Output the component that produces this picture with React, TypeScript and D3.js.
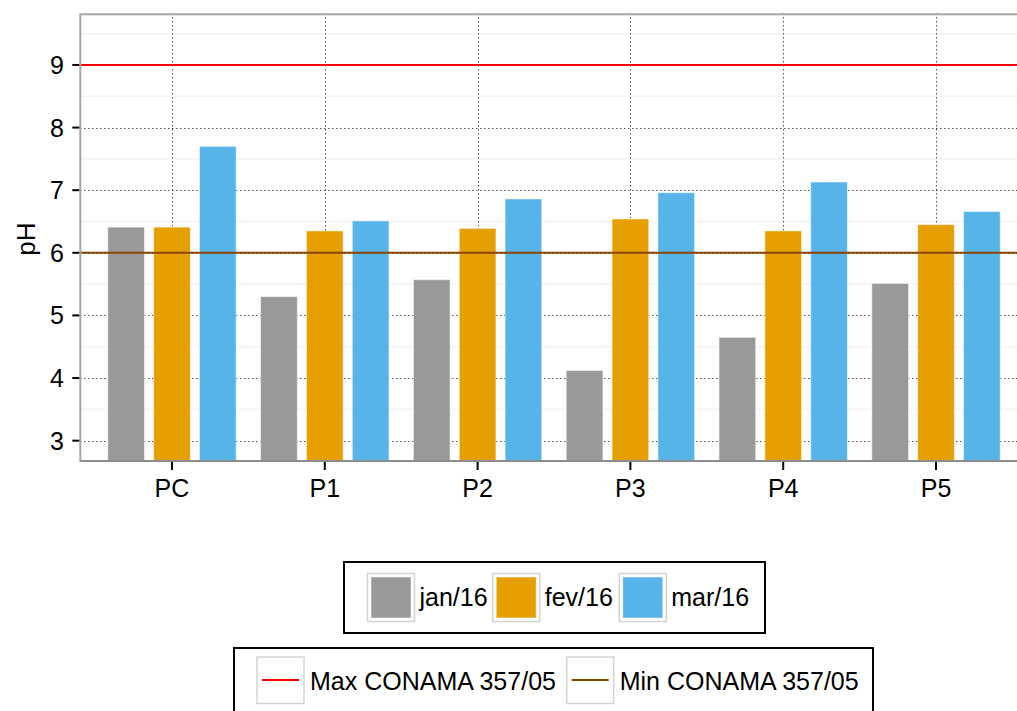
import { useEffect, useRef } from "react";
import * as d3 from "d3";

const sites = ["PC", "P1", "P2", "P3", "P4", "P5"];
const months = ["jan/16", "fev/16", "mar/16"];
const janValues = [6.41, 5.3, 5.57, 4.12, 4.65, 5.51];
const fevValues = [6.41, 6.35, 6.39, 6.54, 6.35, 6.45];
const marValues = [7.7, 6.51, 6.86, 6.96, 7.13, 6.66];
const monthColors = ["#999999", "#E69F00", "#56B4E9"];
const yTicks = [3, 4, 5, 6, 7, 8, 9];
const yMinor = [3.5, 4.5, 5.5, 6.5, 7.5, 8.5, 9.5];
const limitLabels = ["Max CONAMA 357/05", "Min CONAMA 357/05"];
const limitValues = [9, 6];
const limitColors = ["#FF0000", "#8B4500"];

const App = () => {
    const ref = useRef<SVGSVGElement | null>(null);

    useEffect(() => {
        const svg = d3.select(ref.current);
        svg.selectAll("*").remove();

        const font = "'Liberation Sans', Arial, sans-serif";
        const panel = { left: 80.3, right: 1027.7, top: 13.3, bottom: 461 };

        const x = d3.scalePoint<string>()
            .domain(sites)
            .range([panel.left, panel.right])
            .padding(0.6);
        const step = x.step();

        const dodge = d3.scaleBand<string>()
            .domain(months)
            .range([-0.45 * step, 0.45 * step]);

        const y = d3.scaleLinear()
            .domain([2.675, 9.825])
            .range([panel.bottom, panel.top]);

        const data = months.flatMap((m, mi) => {
            const vals = [janValues, fevValues, marValues][mi];
            return sites.map((s, i) => ({ site: s, month: m, value: vals[i], color: monthColors[mi] }));
        });

        svg.append("defs").append("clipPath").attr("id", "panel-clip")
            .append("rect")
            .attr("x", panel.left).attr("y", panel.top)
            .attr("width", panel.right - panel.left).attr("height", panel.bottom - panel.top);

        const g = svg.append("g").attr("clip-path", "url(#panel-clip)");

        // minor grid
        g.selectAll(".minor").data(yMinor).enter().append("line")
            .attr("x1", panel.left).attr("x2", panel.right)
            .attr("y1", d => y(d)).attr("y2", d => y(d))
            .attr("stroke", "#f3f3f3").attr("stroke-width", 1.5);

        // major grid (dotted)
        g.selectAll(".major").data(yTicks).enter().append("line")
            .attr("x1", panel.left).attr("x2", panel.right)
            .attr("y1", d => Math.round(y(d)) + 0.5).attr("y2", d => Math.round(y(d)) + 0.5)
            .attr("stroke", "#000").attr("stroke-width", 1)
            .attr("stroke-dasharray", "1,3");
        g.selectAll(".vgrid").data(sites).enter().append("line")
            .attr("x1", d => Math.round(x(d)!) + 0.5).attr("x2", d => Math.round(x(d)!) + 0.5)
            .attr("y1", panel.top).attr("y2", panel.bottom)
            .attr("stroke", "#000").attr("stroke-width", 1)
            .attr("stroke-dasharray", "1,3");

        // bars
        const bw = dodge.bandwidth();
        g.selectAll(".bar").data(data).enter().append("rect")
            .attr("x", d => x(d.site)! + dodge(d.month)! + bw * 0.1)
            .attr("width", bw * 0.8)
            .attr("y", d => y(d.value))
            .attr("height", d => panel.bottom - y(d.value))
            .attr("fill", d => d.color)
            .attr("stroke", "white")
            .attr("stroke-opacity", 0.5)
            .attr("stroke-width", 1);

        // CONAMA limits
        g.selectAll(".limit").data(limitValues).enter().append("line")
            .attr("x1", panel.left).attr("x2", panel.right)
            .attr("y1", d => y(d)).attr("y2", d => y(d))
            .attr("stroke", (d, i) => limitColors[i])
            .attr("stroke-width", 2);

        // panel border
        svg.append("rect")
            .attr("x", panel.left).attr("y", panel.top + 1)
            .attr("width", panel.right - panel.left).attr("height", panel.bottom - panel.top - 1)
            .attr("fill", "none").attr("stroke", "#a6a6a6").attr("stroke-width", 2);
        svg.append("line")
            .attr("x1", panel.left).attr("x2", panel.right)
            .attr("y1", panel.bottom).attr("y2", panel.bottom)
            .attr("stroke", "#8c8c8c").attr("stroke-width", 2);

        // y axis
        const ya = svg.append("g");
        ya.selectAll("line").data(yTicks).enter().append("line")
            .attr("x1", panel.left - 8).attr("x2", panel.left - 1)
            .attr("y1", d => y(d)).attr("y2", d => y(d))
            .attr("stroke", "#000").attr("stroke-width", 2);
        ya.selectAll("text").data(yTicks).enter().append("text")
            .attr("x", 64).attr("y", d => y(d) + 9)
            .attr("text-anchor", "end")
            .attr("font-family", font).attr("font-size", "25px")
            .text(d => d);

        svg.append("text")
            .attr("transform", `translate(35, 239) rotate(-90)`)
            .attr("text-anchor", "middle")
            .attr("font-family", font).attr("font-size", "26px")
            .text("pH");

        // x axis
        const xa = svg.append("g");
        xa.selectAll("line").data(sites).enter().append("line")
            .attr("x1", d => x(d)!).attr("x2", d => x(d)!)
            .attr("y1", panel.bottom + 1).attr("y2", panel.bottom + 9)
            .attr("stroke", "#000").attr("stroke-width", 2);
        xa.selectAll("text").data(sites).enter().append("text")
            .attr("x", d => x(d)!).attr("y", 497)
            .attr("text-anchor", "middle")
            .attr("font-family", font).attr("font-size", "25px")
            .text(d => d);

        // legend: months
        const leg1 = svg.append("g");
        leg1.append("rect")
            .attr("x", 344).attr("y", 562).attr("width", 421).attr("height", 71)
            .attr("fill", "white").attr("stroke", "#000").attr("stroke-width", 2);
        const keyX1 = [367.5, 492.7, 619.3];
        months.forEach((m, i) => {
            leg1.append("rect")
                .attr("x", keyX1[i]).attr("y", 573.5).attr("width", 47).attr("height", 48)
                .attr("fill", "white").attr("stroke", "#d3d3d3").attr("stroke-width", 1.5);
            leg1.append("rect")
                .attr("x", keyX1[i] + 3.5).attr("y", 577).attr("width", 40).attr("height", 41)
                .attr("fill", monthColors[i]).attr("stroke", "white").attr("stroke-opacity", 0.5);
            leg1.append("text")
                .attr("x", keyX1[i] + 52).attr("y", 606)
                .attr("font-family", font).attr("font-size", "25px")
                .text(m);
        });

        // legend: limits
        const leg2 = svg.append("g");
        leg2.append("rect")
            .attr("x", 234).attr("y", 648).attr("width", 639).attr("height", 80)
            .attr("fill", "white").attr("stroke", "#000").attr("stroke-width", 2);
        const keyX2 = [257, 566.7];
        limitLabels.forEach((l, i) => {
            leg2.append("rect")
                .attr("x", keyX2[i]).attr("y", 657).attr("width", 47).attr("height", 46.5)
                .attr("fill", "white").attr("stroke", "#d3d3d3").attr("stroke-width", 1.5);
            leg2.append("line")
                .attr("x1", keyX2[i] + 5).attr("x2", keyX2[i] + 42)
                .attr("y1", 680).attr("y2", 680)
                .attr("stroke", limitColors[i]).attr("stroke-width", 2);
            leg2.append("text")
                .attr("x", keyX2[i] + 53).attr("y", 690)
                .attr("font-family", font).attr("font-size", "25px")
                .text(l);
        });
    }, []);

    return (
        <svg
            ref={ref}
            width={1017}
            height={711}
            style={{ position: "absolute", left: 0, top: 0, background: "white" }}
        />
    );
};

export default App;
